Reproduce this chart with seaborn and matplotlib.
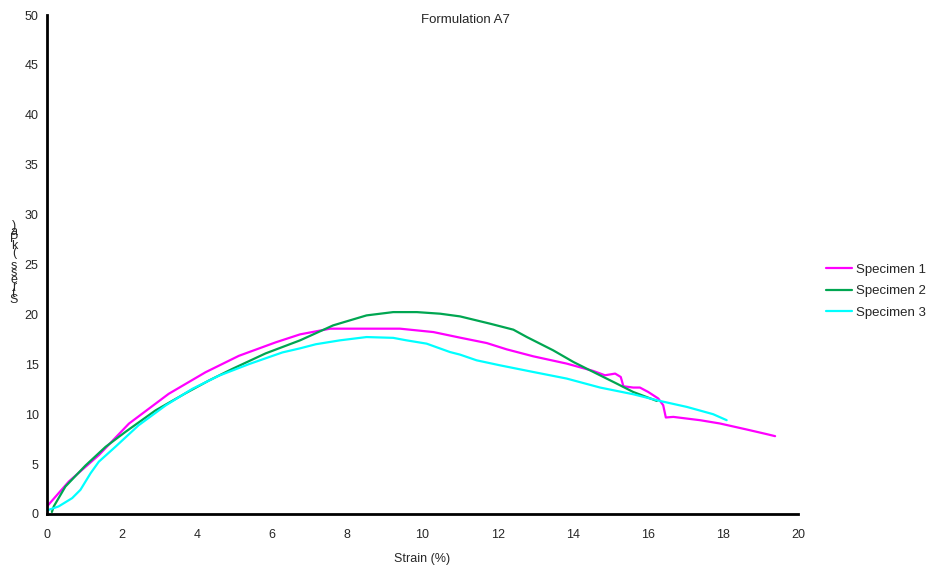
import numpy as np
import pandas as pd
import matplotlib
matplotlib.use("Agg")
import matplotlib.pyplot as plt
import seaborn as sns

# Strain (%) and stress readings for each specimen
spec1_strain = [0.0, 0.58, 1.38, 2.18, 3.24, 4.22, 5.11, 6.09, 6.74, 7.54, 8.5, 9.40, 10.29, 11.0,
                11.71, 12.24, 12.95, 13.84, 14.55, 14.86, 15.13, 15.28, 15.35, 15.61, 15.79,
                16.01, 16.28, 16.41, 16.48, 16.68, 17.39, 17.92, 18.63, 19.17, 19.39]
spec1_stress = [0.76, 3.25, 5.9, 9.05, 12.04, 14.2, 15.85, 17.2, 18.0, 18.57, 18.57, 18.57, 18.23, 17.67,
                17.13, 16.5, 15.8, 15.07, 14.33, 13.9, 14.07, 13.73, 12.8, 12.67, 12.67,
                12.23, 11.57, 10.9, 9.67, 9.73, 9.4, 9.07, 8.47, 8.0, 7.8]

spec2_strain = [0.13, 0.18, 0.49, 1.02, 1.56, 2.09, 2.89, 3.69, 4.31, 4.93, 5.82, 6.74, 7.62,
                8.51, 9.22, 9.85, 10.47, 11.0, 11.8, 12.42, 12.78, 13.48, 14.02, 14.55,
                15.17, 15.61, 16.24]
spec2_stress = [0.2, 0.76, 2.75, 4.84, 6.73, 8.23, 10.38, 12.1, 13.37, 14.53, 16.09, 17.4, 18.9,
                19.9, 20.23, 20.23, 20.07, 19.8, 19.07, 18.47, 17.73, 16.4, 15.23, 14.23,
                13.07, 12.23, 11.33]

spec3_strain = [0.0, 0.31, 0.67, 0.89, 1.16, 1.38, 1.82, 2.44, 3.16, 3.87, 4.58, 5.38, 6.27,
                6.74, 7.16, 7.8, 8.51, 9.22, 9.56, 10.11, 10.73, 11.0, 11.44, 12.06, 12.95, 13.84,
                14.73, 15.61, 16.32, 17.04, 17.74, 18.1]
spec3_stress = [0.36, 0.76, 1.59, 2.42, 4.08, 5.24, 6.73, 8.89, 10.88, 12.54, 13.86, 15.02, 16.19,
                16.6, 17.01, 17.4, 17.73, 17.65, 17.41, 17.07, 16.23, 15.97, 15.4, 14.9, 14.23, 13.57,
                12.67, 12.0, 11.33, 10.73, 10.0, 9.4]

specimens = ["Specimen 1", "Specimen 2", "Specimen 3"]
colors = ["#FF00FF", "#00A651", "#00FFFF"]
x_ticks = [0, 2, 4, 6, 8, 10, 12, 14, 16, 18, 20]
y_ticks = [0, 5, 10, 15, 20, 25, 30, 35, 40, 45, 50]

frames = []
for name, xs, ys in zip(specimens,
                        [spec1_strain, spec2_strain, spec3_strain],
                        [spec1_stress, spec2_stress, spec3_stress]):
    frames.append(pd.DataFrame({"strain": xs, "stress": ys, "specimen": name}))
df = pd.concat(frames, ignore_index=True)

sns.set_style("white")
plt.rcParams["font.family"] = ["Liberation Sans", "DejaVu Sans"]

W, H = 930, 568
fig = plt.figure(figsize=(W / 100, H / 100), dpi=100)
ax = fig.add_axes([47 / W, 1 - 514 / H, (798 - 47) / W, (514 - 15) / H])

sns.lineplot(data=df, x="strain", y="stress", hue="specimen", hue_order=specimens,
             palette=colors, sort=False, estimator=None, linewidth=1.6, ax=ax, legend=True)

ax.set_xlim(0, 20)
ax.set_ylim(0, 50)
ax.set_xticks(x_ticks)
ax.set_yticks(y_ticks)
ax.tick_params(axis="y", length=0, labelsize=9, pad=6)
ax.tick_params(axis="x", length=0, labelsize=9, pad=10.5)
for side in ["top", "right"]:
    ax.spines[side].set_visible(False)
for side in ["left", "bottom"]:
    ax.spines[side].set_linewidth(2)
    ax.spines[side].set_color("black")
ax.set_xlabel("Strain (%)", fontsize=9, labelpad=9)
ax.set_ylabel("")

fig.text(465 / W, 1 - 20 / H, "Formulation A7", ha="center", va="center", fontsize=9.5)

# Vertical stacked y-axis label, read bottom to top
label = "Stress (kPa)"
fig.text(14 / W, 1 - 263 / H, "\n".join(reversed(label)), ha="center", va="center",
         fontsize=9, linespacing=0.42)

leg = ax.legend(loc="center left", bbox_to_anchor=(826 / W, 1 - 291 / H),
                bbox_transform=fig.transFigure, frameon=False, fontsize=9.5,
                handlelength=1.95, handletextpad=0.35, labelspacing=0.7, borderaxespad=0,
                borderpad=0)

fig.savefig("out.png", dpi=100)
